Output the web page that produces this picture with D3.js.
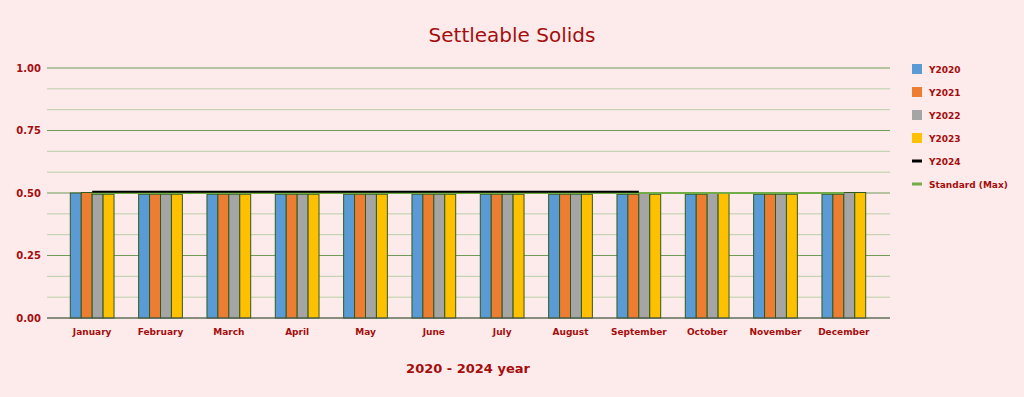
<!DOCTYPE html>
<html>
<head>
<meta charset="utf-8">
<script src="https://cdn.jsdelivr.net/npm/d3@7"></script>
<style>
  body { margin: 0; background: #fdebeb; }
  svg { display: block; font-family: "Comic Sans MS", "DejaVu Sans", sans-serif; }
</style>
</head>
<body>
<div id="chart"></div>
<script>
var months = ["January", "February", "March", "April", "May", "June", "July",
    "August", "September", "October", "November", "December"];
var y2020 = [0.5, 0.495, 0.495, 0.495, 0.495, 0.495, 0.495, 0.495, 0.495, 0.495, 0.495, 0.495];
var y2021 = [0.502, 0.495, 0.495, 0.495, 0.495, 0.495, 0.495, 0.495, 0.495, 0.495, 0.495, 0.495];
var y2022 = [0.495, 0.495, 0.495, 0.495, 0.495, 0.495, 0.495, 0.495, 0.5, 0.5, 0.495, 0.502];
var y2023 = [0.495, 0.495, 0.495, 0.495, 0.495, 0.495, 0.495, 0.495, 0.495, 0.5, 0.495, 0.502];
var y2024 = [0.505, 0.505, 0.505, 0.505, 0.505, 0.505, 0.505, 0.505, 0.505];
var standard = [0.5, 0.5, 0.5, 0.5, 0.5, 0.5, 0.5, 0.5, 0.5, 0.5, 0.5, 0.5];
var yTicks = [0, 0.25, 0.5, 0.75, 1];

var barSeries = [
    {name: "Y2020", values: y2020, color: "#5b9bd5"},
    {name: "Y2021", values: y2021, color: "#ed7d31"},
    {name: "Y2022", values: y2022, color: "#a5a5a5"},
    {name: "Y2023", values: y2023, color: "#ffc000"}
];

var width = 1024, height = 397;
var red = "#a50d0d";

var svg = d3.select("#chart").append("svg")
    .attr("width", width)
    .attr("height", height);

svg.append("rect").attr("width", width).attr("height", height).attr("fill", "#fdebeb");

var xScale = d3.scaleBand()
    .domain(months)
    .range([58, 878])
    .paddingInner(0.36)
    .paddingOuter(0.18);

var xSub = d3.scaleBand()
    .domain(barSeries.map(function(d) { return d.name; }))
    .range([0, xScale.bandwidth()]);

var yScale = d3.scaleLinear()
    .domain([0, 1])
    .range([318, 68]);

// gridlines, minor every 1/12
var gridVals = d3.range(0, 13).map(function(i) { return i / 12; });
svg.append("g").selectAll("line").data(gridVals)
    .join("line")
    .attr("x1", 47).attr("x2", 890)
    .attr("y1", function(d) { return yScale(d); })
    .attr("y2", function(d) { return yScale(d); })
    .attr("stroke", function(d, i) { return i % 3 == 0 ? "#6f9a58" : "#b9cfa6"; })
    .attr("stroke-width", 1);

// y axis labels
svg.append("g").selectAll("text").data(yTicks)
    .join("text")
    .attr("x", 41)
    .attr("y", function(d) { return yScale(d) + 3.5; })
    .attr("text-anchor", "end")
    .attr("font-size", 10)
    .attr("font-weight", "bold")
    .attr("fill", red)
    .text(function(d) { return d.toFixed(2); });

// bars
barSeries.forEach(function(s) {
    svg.append("g").selectAll("rect").data(s.values)
        .join("rect")
        .attr("x", function(d, i) { return xScale(months[i]) + xSub(s.name); })
        .attr("y", function(d) { return yScale(d); })
        .attr("width", xSub.bandwidth())
        .attr("height", function(d) { return yScale(0) - yScale(d); })
        .attr("fill", s.color)
        .attr("stroke", "#2f5a1f")
        .attr("stroke-width", 1);
});

// x axis line
svg.append("line")
    .attr("x1", 47).attr("x2", 890)
    .attr("y1", yScale(0)).attr("y2", yScale(0))
    .attr("stroke", "#595959").attr("stroke-width", 1);

var center = function(i) { return xScale(months[i]) + xScale.bandwidth() / 2; };
var line = d3.line()
    .x(function(d, i) { return center(i); })
    .y(function(d) { return yScale(d); });

svg.append("path").datum(standard)
    .attr("d", line)
    .attr("fill", "none")
    .attr("stroke", "#70ad47")
    .attr("stroke-width", 2);

svg.append("path").datum(y2024)
    .attr("d", line)
    .attr("fill", "none")
    .attr("stroke", "#000")
    .attr("stroke-width", 2);

// month labels
svg.append("g").selectAll("text").data(months)
    .join("text")
    .attr("x", function(d, i) { return center(i); })
    .attr("y", 335)
    .attr("text-anchor", "middle")
    .attr("font-size", 9)
    .attr("font-weight", "bold")
    .attr("fill", red)
    .text(function(d) { return d; });

// titles
svg.append("text")
    .attr("x", 512).attr("y", 42)
    .attr("text-anchor", "middle")
    .attr("font-size", 20)
    .attr("fill", red)
    .text("Settleable Solids");

svg.append("text")
    .attr("x", 468).attr("y", 373)
    .attr("text-anchor", "middle")
    .attr("font-size", 13)
    .attr("font-weight", "bold")
    .attr("fill", red)
    .text("2020 - 2024 year");

// legend
var legendItems = barSeries.map(function(s) { return {name: s.name, color: s.color, type: "box"}; })
    .concat([{name: "Y2024", color: "#000", type: "line"},
             {name: "Standard (Max)", color: "#70ad47", type: "line"}]);

var legend = svg.append("g").selectAll("g").data(legendItems)
    .join("g")
    .attr("transform", function(d, i) { return "translate(912," + (69 + i * 23) + ")"; });

legend.append("rect")
    .attr("x", 0)
    .attr("y", function(d) { return d.type == "box" ? -5 : -1.5; })
    .attr("width", 10)
    .attr("height", function(d) { return d.type == "box" ? 10 : 3; })
    .attr("fill", function(d) { return d.color; });

legend.append("text")
    .attr("x", 17).attr("y", 3.5)
    .attr("font-size", 9)
    .attr("font-weight", "bold")
    .attr("fill", red)
    .text(function(d) { return d.name; });
</script>
</body>
</html>
